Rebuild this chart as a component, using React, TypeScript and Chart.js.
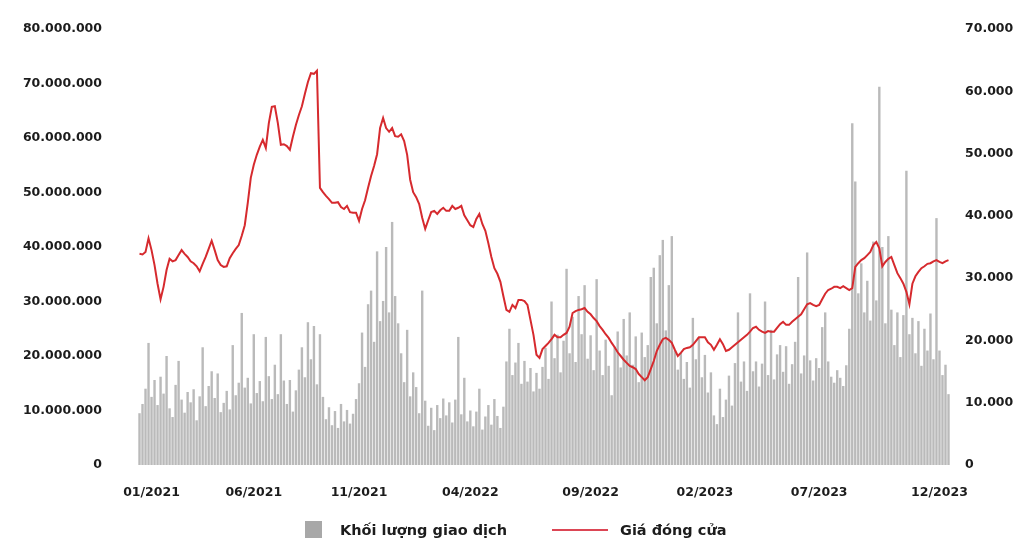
import React, { useEffect, useRef } from 'react';
import { Chart, registerables } from 'chart.js';

Chart.register(...registerables);

// X-axis tick labels and the data index each one sits on
const tickLabels = ['01/2021', '06/2021', '11/2021', '04/2022', '09/2022', '02/2023', '07/2023', '12/2023'];
const tickIndex = [4, 38, 73, 110, 150, 188, 226, 266];

// Trading volume (millions of shares)
const volumeMillions = [
  9.5, 11.2, 14.0, 22.4, 12.5, 15.6, 11.0, 16.2, 13.1, 20.0,
  10.4, 8.8, 14.7, 19.1, 12.0, 9.6, 13.4, 11.5, 13.9, 8.2,
  12.6, 21.6, 10.8, 14.5, 17.2, 12.3, 16.8, 9.7, 11.4, 13.6,
  10.2, 22.0, 12.8, 15.1, 27.9, 14.2, 16.0, 11.3, 24.0, 13.2,
  15.4, 11.7, 23.5, 16.3, 12.1, 18.4, 13.0, 24.0, 15.5, 11.2,
  15.6, 9.8, 13.7, 17.5, 21.6, 16.1, 26.2, 19.4, 25.5, 14.8,
  24.0, 12.5, 8.4, 10.6, 7.3, 9.9, 6.8, 11.2, 8.0, 10.1,
  7.6, 9.4, 12.1, 15.0, 24.3, 18.0, 29.5, 32.0, 22.6, 39.2,
  26.4, 30.1, 40.0, 28.0, 44.6, 31.0, 26.0, 20.5, 15.2, 24.8,
  12.6, 17.0, 14.3, 9.5, 32.0, 11.8, 7.2, 10.5, 6.4, 11.0,
  8.6, 12.2, 9.1, 11.5, 7.8, 12.0, 23.5, 9.3, 16.0, 8.0,
  10.0, 7.1, 9.8, 14.0, 6.5, 8.9, 11.0, 7.4, 12.1, 9.0,
  6.8, 10.7, 19.0, 25.0, 16.5, 18.8, 22.4, 14.9, 19.1, 15.3,
  17.8, 13.5, 16.9, 14.0, 18.0, 21.5, 15.8, 30.0, 19.6, 23.9,
  17.0, 22.8, 36.0, 20.5, 27.2, 18.9, 31.0, 24.0, 33.0, 19.5,
  23.8, 17.4, 34.1, 21.0, 16.5, 23.0, 18.2, 12.8, 21.7, 24.5,
  17.9, 26.8, 20.1, 28.0, 18.4, 23.6, 15.2, 24.3, 19.8, 22.0,
  34.5, 36.2, 26.0, 38.5, 41.3, 24.7, 33.0, 42.0, 21.0, 17.5,
  20.6, 15.8, 18.9, 14.2, 27.0, 19.4, 23.5, 16.1, 20.2, 13.3,
  17.0, 9.1, 7.5, 14.0, 8.8, 12.0, 16.4, 10.9, 18.7, 28.0,
  15.3, 19.0, 13.6, 31.5, 17.2, 19.0, 14.4, 18.6, 30.0, 16.5,
  24.8, 15.7, 20.3, 22.0, 17.1, 21.8, 14.9, 18.5, 22.6, 34.5,
  16.8, 20.1, 39.0, 19.2, 15.5, 19.6, 17.8, 25.3, 28.0, 19.0,
  16.2, 15.1, 17.4, 16.0, 14.5, 18.3, 25.0, 62.7, 52.0, 31.5,
  37.0, 28.0, 33.8, 26.5, 41.0, 30.2, 69.4, 40.0, 26.0, 42.0,
  28.5, 22.0, 28.0, 19.8, 27.5, 54.0, 24.0, 27.0, 20.5, 26.4,
  18.2, 25.0, 21.0, 27.8, 19.4, 45.3, 21.0, 16.5, 18.4, 13.0,
];

// Closing price (thousand VND)
const closePriceThousand = [
  33.9, 33.8, 34.2, 36.4, 34.5, 32.1, 29.1, 26.6, 28.6, 31.3,
  33.1, 32.7, 32.9, 33.7, 34.5, 33.9, 33.4, 32.7, 32.4, 31.9,
  31.1, 32.3, 33.4, 34.7, 36.0, 34.5, 32.9, 32.1, 31.8, 31.9,
  33.2, 34.0, 34.7, 35.3, 36.8, 38.5, 42.1, 46.1, 48.2, 49.8,
  51.1, 52.2, 50.9, 54.9, 57.5, 57.6, 54.9, 51.4, 51.5, 51.2,
  50.6, 52.7, 54.6, 56.2, 57.6, 59.6, 61.5, 62.9, 62.8, 63.3,
  44.5, 43.8, 43.2, 42.7, 42.1, 42.1, 42.2, 41.4, 41.1, 41.6,
  40.6, 40.5, 40.5, 39.2, 41.1, 42.5, 44.5, 46.4, 48.0, 49.9,
  54.1, 55.7, 54.1, 53.5, 54.1, 52.8, 52.7, 53.1, 52.0, 49.8,
  45.8, 43.8, 43.0, 41.9, 39.7, 37.9, 39.3, 40.6, 40.8, 40.3,
  40.9, 41.3, 40.8, 40.8, 41.6, 41.1, 41.3, 41.6, 40.1, 39.3,
  38.5, 38.2, 39.5, 40.3, 38.7, 37.6, 35.6, 33.4, 31.6, 30.7,
  29.4, 27.1, 24.9, 24.6, 25.7, 25.2, 26.5, 26.5, 26.3, 25.7,
  23.3, 20.9, 17.7, 17.2, 18.6, 19.1, 19.6, 20.2, 20.9, 20.5,
  20.5, 20.9, 21.2, 22.2, 24.4, 24.7, 24.9, 25.0, 25.2, 24.6,
  24.2, 23.6, 23.1, 22.3, 21.7, 21.0, 20.4, 19.6, 18.9, 18.1,
  17.5, 16.9, 16.4, 15.9, 15.7, 15.4, 14.6, 14.1, 13.6, 14.1,
  15.4, 16.7, 18.3, 19.3, 20.2, 20.4, 20.1, 19.6, 18.5, 17.5,
  18.0, 18.6, 18.8, 18.9, 19.3, 19.9, 20.5, 20.5, 20.5, 19.7,
  19.3, 18.5, 19.3, 20.2, 19.4, 18.3, 18.5, 18.9, 19.3, 19.7,
  20.1, 20.5, 20.9, 21.4, 22.0, 22.2, 21.7, 21.4, 21.2, 21.5,
  21.4, 21.4, 22.0, 22.6, 23.0, 22.5, 22.5, 23.0, 23.4, 23.8,
  24.2, 25.0, 25.8, 26.0, 25.7, 25.5, 25.7, 26.6, 27.5, 28.1,
  28.3, 28.6, 28.6, 28.4, 28.7, 28.4, 28.1, 28.4, 31.8, 32.4,
  32.9, 33.2, 33.7, 34.2, 35.3, 35.8, 34.8, 31.9, 32.6, 33.1,
  33.4, 32.1, 30.8, 30.0, 29.1, 27.8, 25.8, 29.1, 30.3, 31.0,
  31.6, 31.9, 32.3, 32.4, 32.7, 32.9, 32.6, 32.4, 32.7, 32.9,
];

const seriesNames = ['Khối lượng giao dịch', 'Giá đóng cửa'];

const FONT_FAMILY = "'DejaVu Sans', sans-serif";
const TEXT_COLOR = '#1c1c1c';
const BAR_COLOR = '#bababa';
const LINE_COLOR = '#d62a2e';

function groupDots(n: number): string {
  return Math.round(n).toString().replace(/\B(?=(\d{3})+(?!\d))/g, '.');
}

export default function App() {
  const canvasRef = useRef<HTMLCanvasElement | null>(null);

  useEffect(() => {
    const canvas = canvasRef.current;
    if (!canvas) return;
    const tickFont = { family: FONT_FAMILY, size: 12.5, weight: 'bold' as const };
    const categories = volumeMillions.map((_, i) => String(i));
    const chart = new Chart(canvas, {
      type: 'bar',
      data: {
        labels: categories,
        datasets: [
          {
            type: 'line',
            label: seriesNames[1],
            data: closePriceThousand,
            yAxisID: 'y1',
            borderColor: LINE_COLOR,
            borderWidth: 2,
            pointRadius: 0,
            tension: 0,
            order: 0,
          } as any,
          {
            type: 'bar',
            label: seriesNames[0],
            data: volumeMillions,
            yAxisID: 'y',
            backgroundColor: BAR_COLOR,
            barPercentage: 0.8,
            categoryPercentage: 1,
            order: 1,
          } as any,
        ],
      },
      options: {
        animation: false,
        responsive: false,
        maintainAspectRatio: false,
        layout: { padding: { top: 29, left: 0, right: 0, bottom: 0 } },
        plugins: { legend: { display: false }, tooltip: { enabled: false } },
        scales: {
          x: {
            grid: { display: false, drawTicks: true, tickLength: 20 },
            border: { display: false },
            ticks: {
              autoSkip: false,
              maxRotation: 0,
              minRotation: 0,
              padding: 0,
              font: tickFont,
              color: TEXT_COLOR,
              callback: (_v: any, i: number) => tickLabels[i],
            },
            afterBuildTicks: (s: any) => {
              s.ticks = tickIndex.map((v) => ({ value: v }));
            },
            afterFit: (s: any) => {
              s.height = 77;
            },
          },
          y: {
            position: 'left',
            min: 0,
            max: 80,
            grid: { display: false, drawTicks: true, tickLength: 36 },
            border: { display: false },
            ticks: {
              stepSize: 10,
              padding: 0,
              font: tickFont,
              color: TEXT_COLOR,
              callback: (v: any) => groupDots(Number(v) * 1000000),
            },
            afterFit: (s: any) => {
              s.width = 138;
            },
          },
          y1: {
            position: 'right',
            min: 0,
            max: 70,
            grid: { display: false, drawTicks: true, tickLength: 15 },
            border: { display: false },
            ticks: {
              stepSize: 10,
              padding: 0,
              font: tickFont,
              color: TEXT_COLOR,
              callback: (v: any) => groupDots(Number(v) * 1000),
            },
            afterFit: (s: any) => {
              s.width = 68;
            },
          },
        },
      } as any,
    });
    return () => chart.destroy();
  }, []);

  const legendText: React.CSSProperties = {
    position: 'absolute',
    top: 521,
    height: 18,
    lineHeight: '18px',
    fontFamily: FONT_FAMILY,
    fontWeight: 'bold',
    fontSize: 14.5,
    color: TEXT_COLOR,
    whiteSpace: 'nowrap',
  };

  return (
    <div style={{ position: 'absolute', left: 0, top: 0, width: 1018, height: 542, background: '#ffffff' }}>
      <canvas ref={canvasRef} width={1018} height={542} style={{ display: 'block', width: 1018, height: 542 }} />
      <div style={{ position: 'absolute', left: 305, top: 521, width: 17, height: 17, background: '#a8a8a8' }} />
      <span style={{ ...legendText, left: 340 }}>{seriesNames[0]}</span>
      <div style={{ position: 'absolute', left: 552, top: 529, width: 56, height: 2, background: '#dc4655' }} />
      <span style={{ ...legendText, left: 620 }}>{seriesNames[1]}</span>
    </div>
  );
}
